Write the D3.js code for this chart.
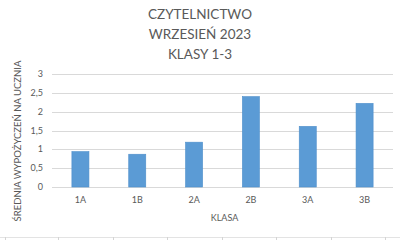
<!DOCTYPE html>
<html>
<head>
<meta charset="utf-8">
<script src="https://d3js.org/d3.v7.min.js"></script>
<style>
  body { margin: 0; background: #fff; }
  text { font-family: Lato, "Open Sans", sans-serif; fill: #595959; }
</style>
</head>
<body>
<svg id="chart"></svg>
<script>
const titleLines = ["CZYTELNICTWO", "WRZESIEŃ 2023", "KLASY 1-3"];
const classes = ["1A", "1B", "2A", "2B", "3A", "3B"];
const avgLoans = [0.94, 0.87, 1.19, 2.40, 1.61, 2.22];
const yTicks = [0, 0.5, 1, 1.5, 2, 2.5, 3];

const width = 400, height = 240;
const plot = { left: 52, right: 393, top: 74, bottom: 187 };

const svg = d3.select("#chart").attr("width", width).attr("height", height);

const x = d3.scaleBand().domain(classes).range([plot.left, plot.right]).paddingInner(0.7).paddingOuter(0.35);
const y = d3.scaleLinear().domain([0, 3]).range([plot.bottom, plot.top]);

// gridlines
svg.append("g").selectAll("line")
  .data(yTicks)
  .enter().append("line")
  .attr("x1", plot.left).attr("x2", plot.right)
  .attr("y1", d => Math.round(y(d)) + 0.5).attr("y2", d => Math.round(y(d)) + 0.5)
  .attr("stroke", "#d9d9d9").attr("stroke-width", 1);

// y tick labels
svg.append("g").selectAll("text")
  .data(yTicks)
  .enter().append("text")
  .attr("x", 43).attr("y", d => y(d))
  .attr("dy", "0.35em")
  .attr("text-anchor", "end")
  .style("font-size", "9px")
  .text(d => String(d).replace(".", ","));

// bars
svg.append("g").selectAll("rect")
  .data(avgLoans)
  .enter().append("rect")
  .attr("x", (d, i) => x(classes[i]))
  .attr("y", d => y(d))
  .attr("width", x.bandwidth())
  .attr("height", d => plot.bottom - y(d))
  .attr("fill", "#5b9bd5")
  .attr("stroke", "#4e8fcb").attr("stroke-width", 0.6);

// x tick labels
svg.append("g").selectAll("text")
  .data(classes)
  .enter().append("text")
  .attr("x", d => x(d) + x.bandwidth() / 2)
  .attr("y", 200)
  .attr("dy", "0.35em")
  .attr("text-anchor", "middle")
  .style("font-size", "9px")
  .text(d => d);

// axis titles
svg.append("text")
  .attr("x", (plot.left + plot.right) / 2 + 2).attr("y", 218)
  .attr("dy", "0.35em")
  .attr("text-anchor", "middle")
  .style("font-size", "9px")
  .text("KLASA");

svg.append("text")
  .attr("transform", "translate(18,141) rotate(-90)")
  .attr("dy", "0.35em")
  .attr("text-anchor", "middle")
  .style("font-size", "9.5px")
  .text("ŚREDNIA WYPOŻYCZEŃ NA UCZNIA");

// title
svg.append("g").selectAll("text")
  .data(titleLines)
  .enter().append("text")
  .attr("x", 200).attr("y", (d, i) => 14 + i * 20)
  .attr("dy", "0.35em")
  .attr("text-anchor", "middle")
  .style("font-size", "13.5px")
  .text(d => d);

// spreadsheet cell borders below the chart
const cellEdges = [5, 58, 113, 167, 222, 276, 331, 385];
svg.append("line")
  .attr("x1", 0).attr("x2", width).attr("y1", 237.5).attr("y2", 237.5)
  .attr("stroke", "#e3e3e3");
svg.append("g").selectAll("line")
  .data(cellEdges)
  .enter().append("line")
  .attr("x1", d => d + 0.5).attr("x2", d => d + 0.5)
  .attr("y1", 237).attr("y2", 240)
  .attr("stroke", "#d4d4d4");
</script>
</body>
</html>
